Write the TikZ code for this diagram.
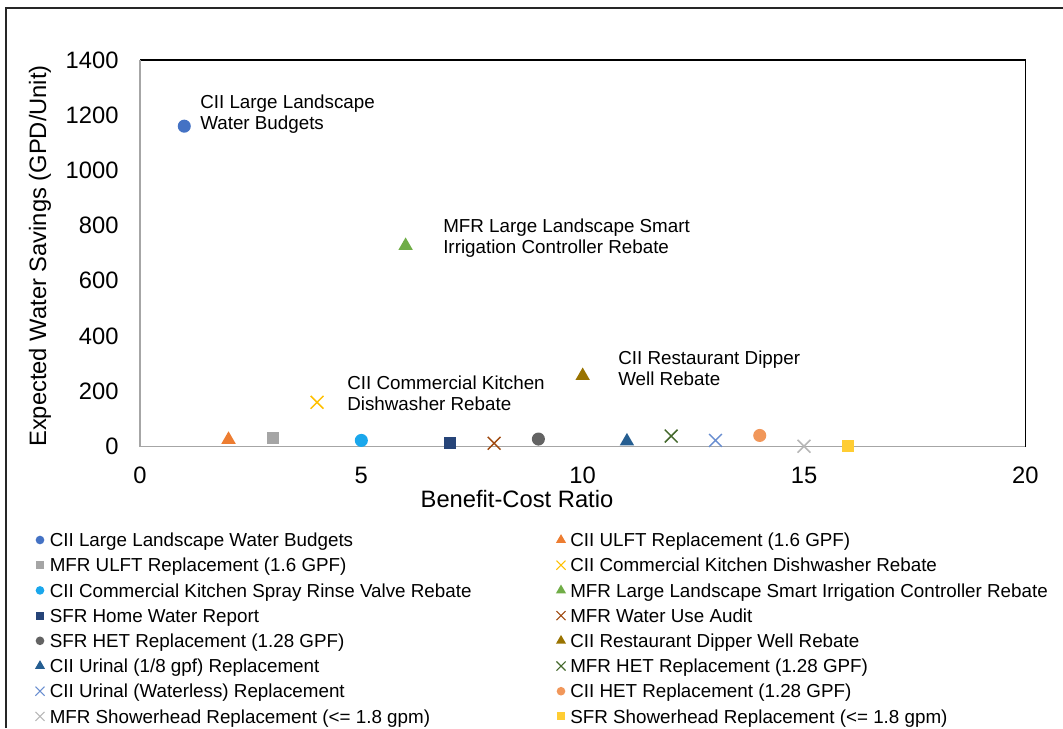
\documentclass[tikz,border=0pt]{standalone}
\usepackage{fontspec}
\setmainfont{Liberation Sans}
\usetikzlibrary{shapes.geometric,shapes.misc}

% series colours
\definecolor{sA}{HTML}{4472C4}
\definecolor{sB}{HTML}{ED7D31}
\definecolor{sC}{HTML}{A5A5A5}
\definecolor{sD}{HTML}{FFC000}
\definecolor{sE}{HTML}{1AA7EC}
\definecolor{sF}{HTML}{70AD47}
\definecolor{sG}{HTML}{264478}
\definecolor{sH}{HTML}{9E480E}
\definecolor{sI}{HTML}{636363}
\definecolor{sJ}{HTML}{997300}
\definecolor{sK}{HTML}{255E91}
\definecolor{sL}{HTML}{43682B}
\definecolor{sM}{HTML}{698ED0}
\definecolor{sN}{HTML}{F1975A}
\definecolor{sO}{HTML}{B7B7B7}
\definecolor{sP}{HTML}{FFCD33}
\definecolor{axisgray}{HTML}{A6A6A6}

\begin{document}
\begin{tikzpicture}[x=0.75pt,y=-0.75pt,
  axisfont/.style={font=\fontsize{17.8pt}{21pt}\selectfont},
  notefont/.style={font=\fontsize{14.1pt}{15.75pt}\selectfont, align=left, inner sep=0pt},
  legfont/.style={font=\fontsize{14.1pt}{17pt}\selectfont, inner sep=0pt},
  % plot markers
  mcirc/.style={circle, fill=#1, inner sep=0pt, minimum size=9.8pt},
  mtri/.style={regular polygon, regular polygon sides=3, fill=#1, inner sep=0pt, minimum size=12.5pt},
  msq/.style={rectangle, fill=#1, inner sep=0pt, minimum size=9.2pt},
  mx/.style={cross out, draw=#1, line width=1.1pt, inner sep=0pt, minimum size=8.5pt},
  % legend markers
  lcirc/.style={circle, fill=#1, inner sep=0pt, minimum size=6.5pt},
  ltri/.style={regular polygon, regular polygon sides=3, fill=#1, inner sep=0pt, minimum size=8.8pt},
  lsq/.style={rectangle, fill=#1, inner sep=0pt, minimum size=6pt},
  lx/.style={cross out, draw=#1, line width=0.8pt, inner sep=0pt, minimum size=6pt}
]
\useasboundingbox (0,0) rectangle (1063,728);

% chart area border (left and top edges)
\draw[line width=1pt, black!85] (6,728) -- (6,8) -- (1063,8);

% data region: x in benefit-cost ratio, y in GPD/unit
\begin{scope}[shift={(140,446.5)}, x=33.2pt, y=0.2071pt]
  \draw[line width=1pt, black] (0,1400) -- (20,1400) -- (20,0);
  \draw[line width=1.1pt, axisgray] (0,1400) -- (0,0) -- (20,0);

  % y tick labels
  \foreach \v in {0,200,400,600,800,1000,1200,1400}
    \node[axisfont, anchor=east, inner sep=0pt] (yt\v) at (-0.48,\v) {\v};
  % x tick labels
  \foreach \v in {0,5,10,15,20}
    \node[axisfont, inner sep=0pt] (xt\v) at (\v,-105) {\v};

  % data points
  \node[mcirc=sA] (p1)  at (1,1160) {};
  \node[mtri=sB]  (p2)  at (2,25) {};
  \node[msq=sC]   (p3)  at (3,30) {};
  \node[mx=sD]    (p4)  at (4,160) {};
  \node[mcirc=sE] (p5)  at (5,22) {};
  \node[mtri=sF]  (p6)  at (6,727) {};
  \node[msq=sG]   (p7)  at (7,12) {};
  \node[mx=sH]    (p8)  at (8,12) {};
  \node[mcirc=sI] (p9)  at (9,27) {};
  \node[mtri=sJ]  (p10) at (10,256) {};
  \node[mtri=sK]  (p11) at (11,19) {};
  \node[mx=sL]    (p12) at (12,38) {};
  \node[mx=sM]    (p13) at (13,22) {};
  \node[mcirc=sN] (p14) at (14,40) {};
  \node[mx=sO]    (p15) at (15,1) {};
  \node[msq=sP]   (p16) at (16,1) {};
\end{scope}

% axis titles
\node[axisfont] (xtitle) at (517,499) {Benefit-Cost Ratio};
\node[axisfont, rotate=90] (ytitle) at (40,256) {Expected Water Savings (GPD/Unit)};

% point annotations
\node[notefont, anchor=west] (n1)  at (200,114) {CII Large Landscape\\Water Budgets};
\node[notefont, anchor=west] (n6)  at (443,238) {MFR Large Landscape Smart\\Irrigation Controller Rebate};
\node[notefont, anchor=west] (n4)  at (347,393) {CII Commercial Kitchen\\Dishwasher Rebate};
\node[notefont, anchor=west] (n10) at (618,368) {CII Restaurant Dipper\\Well Rebate};

% legend, left column
\node[lcirc=sA] (l1)  at (40,540.0) {};
\node[legfont, anchor=base west] (t1)  at (49.5,546.7) {CII Large Landscape Water Budgets};
\node[lsq=sC]   (l3)  at (40,565.2) {};
\node[legfont, anchor=base west] (t3)  at (49.5,571.9) {MFR ULFT Replacement (1.6 GPF)};
\node[lcirc=sE] (l5)  at (40,590.4) {};
\node[legfont, anchor=base west] (t5)  at (49.5,597.1) {CII Commercial Kitchen Spray Rinse Valve Rebate};
\node[lsq=sG]   (l7)  at (40,615.6) {};
\node[legfont, anchor=base west] (t7)  at (49.5,622.3) {SFR Home Water Report};
\node[lcirc=sI] (l9)  at (40,640.8) {};
\node[legfont, anchor=base west] (t9)  at (49.5,647.5) {SFR HET Replacement (1.28 GPF)};
\node[ltri=sK]  (l11) at (40,666.0) {};
\node[legfont, anchor=base west] (t11) at (49.5,672.7) {CII Urinal (1/8 gpf) Replacement};
\node[lx=sM]    (l13) at (40,691.2) {};
\node[legfont, anchor=base west] (t13) at (49.5,697.9) {CII Urinal (Waterless) Replacement};
\node[lx=sO]    (l15) at (40,716.4) {};
\node[legfont, anchor=base west] (t15) at (49.5,723.1) {MFR Showerhead Replacement (<= 1.8 gpm)};

% legend, right column
\node[ltri=sB]  (l2)  at (561,540.0) {};
\node[legfont, anchor=base west] (t2)  at (570,546.7) {CII ULFT Replacement (1.6 GPF)};
\node[lx=sD]    (l4)  at (561,565.2) {};
\node[legfont, anchor=base west] (t4)  at (570,571.9) {CII Commercial Kitchen Dishwasher Rebate};
\node[ltri=sF]  (l6)  at (561,590.4) {};
\node[legfont, anchor=base west] (t6)  at (570,597.1) {MFR Large Landscape Smart Irrigation Controller Rebate};
\node[lx=sH]    (l8)  at (561,615.6) {};
\node[legfont, anchor=base west] (t8)  at (570,622.3) {MFR Water Use Audit};
\node[ltri=sJ]  (l10) at (561,640.8) {};
\node[legfont, anchor=base west] (t10) at (570,647.5) {CII Restaurant Dipper Well Rebate};
\node[lx=sL]    (l12) at (561,666.0) {};
\node[legfont, anchor=base west] (t12) at (570,672.7) {MFR HET Replacement (1.28 GPF)};
\node[lcirc=sN] (l14) at (561,691.2) {};
\node[legfont, anchor=base west] (t14) at (570,697.9) {CII HET Replacement (1.28 GPF)};
\node[lsq=sP]   (l16) at (561,716.4) {};
\node[legfont, anchor=base west] (t16) at (570,723.1) {SFR Showerhead Replacement (<= 1.8 gpm)};
\end{tikzpicture}
\end{document}
